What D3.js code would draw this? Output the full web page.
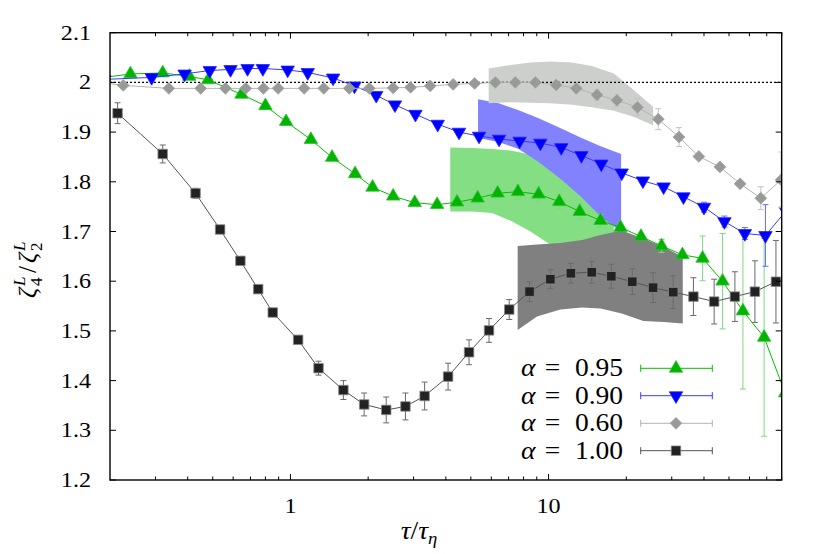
<!DOCTYPE html>
<html>
<head>
<meta charset="utf-8">
<script src="https://cdn.jsdelivr.net/npm/d3@7"></script>
<style>
  body { margin: 0; background: #fff; }
  svg text { font-family: "Liberation Serif", serif; }
</style>
</head>
<body>
<svg id="chart"></svg>
<script>
// alpha = 0.95 (green, up triangles)
const tau95  = [0.19, 0.240, 0.32, 0.406, 0.48, 0.646, 0.80, 0.962, 1.20, 1.45, 1.78, 2.08, 2.50, 3.03, 3.70, 4.42, 5.31, 6.35, 7.61, 9.15, 11.0, 13.2, 15.9, 19.0, 22.8, 27.4, 33.0, 39.5, 47.2, 56.6, 68.4, 82.5];
const zeta95 = [2.010, 2.017, 2.019, 2.012, 2.005, 1.976, 1.953, 1.921, 1.885, 1.849, 1.816, 1.789, 1.771, 1.758, 1.754, 1.759, 1.767, 1.777, 1.780, 1.775, 1.760, 1.740, 1.722, 1.708, 1.690, 1.671, 1.653, 1.646, 1.600, 1.540, 1.487, 1.375];
const err95  = [0, 0, 0, 0, 0, 0, 0, 0, 0, 0, 0, 0, 0, 0.003, 0.003, 0.006, 0.011, 0.012, 0.014, 0.015, 0.014, 0.015, 0.012, 0.003, 0.003, 0.013, 0.003, 0.045, 0.096, 0.157, 0.199, 0];

// alpha = 0.90 (blue, down triangles)
const tau90  = [0.19, 0.29, 0.389, 0.487, 0.586, 0.682, 0.782, 0.976, 1.167, 1.463, 1.77, 2.15, 2.54, 3.05, 3.72, 4.50, 5.38, 6.43, 7.72, 9.29, 11.2, 13.4, 16.0, 19.2, 23.2, 27.9, 33.3, 40.0, 48.0, 57.6, 69.2, 83.0];
const zeta90 = [2.006, 2.010, 2.017, 2.024, 2.026, 2.028, 2.028, 2.025, 2.020, 2.009, 1.993, 1.974, 1.955, 1.936, 1.916, 1.900, 1.892, 1.886, 1.882, 1.878, 1.869, 1.853, 1.836, 1.818, 1.802, 1.790, 1.770, 1.749, 1.720, 1.696, 1.692, 1.741];
const err90  = [0, 0, 0, 0, 0, 0, 0, 0, 0, 0, 0, 0, 0, 0, 0, 0, 0, 0, 0, 0, 0, 0, 0, 0, 0, 0, 0.004, 0.010, 0.011, 0.012, 0.062, 0];

// alpha = 0.60 (grey, diamonds)
const tau60  = [0.19, 0.225, 0.338, 0.449, 0.56, 0.671, 0.786, 0.896, 1.13, 1.346, 1.69, 2.02, 2.50, 2.92, 3.48, 4.27, 5.17, 6.22, 7.43, 8.89, 10.7, 12.8, 15.4, 18.4, 22.1, 26.6, 32.0, 38.2, 46.1, 55.2, 66.4, 79.6];
const zeta60 = [1.999, 1.994, 1.988, 1.988, 1.988, 1.988, 1.988, 1.988, 1.988, 1.988, 1.988, 1.988, 1.989, 1.990, 1.993, 1.996, 1.998, 2.000, 2.000, 2.000, 1.995, 1.988, 1.975, 1.964, 1.950, 1.926, 1.890, 1.851, 1.830, 1.796, 1.767, 1.804];
const err60  = [0, 0, 0, 0, 0, 0, 0, 0, 0, 0, 0, 0, 0, 0, 0, 0, 0, 0, 0, 0, 0, 0.004, 0.011, 0.012, 0.017, 0.021, 0.019, 0.004, 0.004, 0.004, 0.023, 0.056];

// alpha = 1.00 (black, squares)
const tau100  = [0.214, 0.32, 0.429, 0.534, 0.64, 0.75, 0.854, 1.071, 1.285, 1.604, 1.93, 2.35, 2.79, 3.31, 4.08, 4.92, 5.88, 7.04, 8.44, 10.16, 12.2, 14.7, 17.5, 21.1, 25.4, 30.4, 36.4, 43.8, 52.7, 63.0, 76.0];
const zeta100 = [1.938, 1.856, 1.777, 1.704, 1.641, 1.584, 1.537, 1.482, 1.425, 1.381, 1.352, 1.341, 1.348, 1.369, 1.408, 1.457, 1.501, 1.543, 1.579, 1.604, 1.616, 1.618, 1.610, 1.599, 1.587, 1.578, 1.569, 1.559, 1.569, 1.579, 1.599];
const err100  = [0.021, 0.018, 0.010, 0.005, 0.004, 0.004, 0.004, 0.004, 0.014, 0.019, 0.023, 0.026, 0.027, 0.028, 0.027, 0.025, 0.024, 0.020, 0.020, 0.019, 0.020, 0.022, 0.024, 0.026, 0.030, 0.033, 0.038, 0.045, 0.050, 0.062, 0.083];

// shaded bands
const bandTau95 = [4.16, 5.05, 6.04, 7.11, 8.50, 10.3, 12.4, 14.9, 17.9];
const bandLo95  = [1.740, 1.740, 1.737, 1.722, 1.700, 1.672, 1.660, 1.660, 1.680];
const bandHi95  = [1.869, 1.868, 1.866, 1.863, 1.855, 1.840, 1.820, 1.800, 1.780];

const bandTau90 = [5.33, 6.41, 7.66, 9.15, 11.1, 13.3, 16.0, 19.1];
const bandLo90  = [1.888, 1.880, 1.866, 1.840, 1.806, 1.771, 1.729, 1.700];
const bandHi90  = [1.966, 1.958, 1.944, 1.928, 1.908, 1.889, 1.871, 1.856];

const bandTau60 = [5.86, 7.11, 8.50, 10.16, 12.3, 14.7, 17.9, 21.3, 25.4];
const bandLo60  = [1.958, 1.960, 1.959, 1.958, 1.955, 1.950, 1.943, 1.931, 1.914];
const bandHi60  = [2.028, 2.035, 2.040, 2.042, 2.040, 2.033, 2.018, 1.985, 1.951];

const bandTau100 = [7.59, 9.02, 11.1, 13.5, 15.9, 19.2, 23.3, 27.9, 33.1];
const bandLo100  = [1.502, 1.529, 1.543, 1.547, 1.545, 1.535, 1.520, 1.518, 1.515];
const bandHi100  = [1.671, 1.674, 1.677, 1.683, 1.693, 1.702, 1.686, 1.669, 1.649];

const yTicks = [1.2, 1.3, 1.4, 1.5, 1.6, 1.7, 1.8, 1.9, 2.0, 2.1];
const yTickLabels = ['1.2', '1.3', '1.4', '1.5', '1.6', '1.7', '1.8', '1.9', '2', '2.1'];
const xMajor = [1, 10];
const xMinor = [0.3, 0.4, 0.5, 0.6, 0.7, 0.8, 0.9, 2, 3, 4, 5, 6, 7, 8, 9, 20, 30, 40, 50, 60, 70, 80];
const legendLabels = ['0.95', '0.90', '0.60', '1.00'];

const width = 831, height = 554;
const plotLeft = 110, plotRight = 781.7, plotTop = 32.7, plotBottom = 480;

const svg = d3.select('#chart').attr('width', width).attr('height', height);

const x = d3.scaleLog().domain([0.2, 80]).range([plotLeft, plotRight]);
const y = d3.scaleLinear().domain([1.2, 2.1]).range([plotBottom, plotTop]);

svg.append('defs').append('clipPath').attr('id', 'plotclip')
  .append('rect').attr('x', plotLeft).attr('y', plotTop)
  .attr('width', plotRight - plotLeft).attr('height', plotBottom - plotTop);

const plot = svg.append('g').attr('clip-path', 'url(#plotclip)');

// bands
function drawBand(ts, lo, hi, fill) {
  const rows = ts.map((t, i) => ({t: t, lo: lo[i], hi: hi[i]}));
  const area = d3.area().x(d => x(d.t)).y0(d => y(d.lo)).y1(d => y(d.hi));
  plot.append('path').datum(rows).attr('d', area).attr('fill', fill);
}
drawBand(bandTau95, bandLo95, bandHi95, '#84de84');
drawBand(bandTau90, bandLo90, bandHi90, '#8282ff');
drawBand(bandTau60, bandLo60, bandHi60, '#cdcfcd');
drawBand(bandTau100, bandLo100, bandHi100, '#808080');

// reference line at 2
plot.append('line')
  .attr('x1', plotLeft).attr('x2', plotRight)
  .attr('y1', y(2)).attr('y2', y(2))
  .attr('stroke', '#000').attr('stroke-width', 1.2)
  .attr('stroke-dasharray', '2,2');

const series = [
  {tau: tau95, zeta: zeta95, err: err95, line: '#00c000', bar: '#7fd87f', fill: '#00b400', stroke: '#30c030', shape: 'up'},
  {tau: tau90, zeta: zeta90, err: err90, line: '#3a3aff', bar: '#6a6aff', fill: '#0000ff', stroke: '#2020ff', shape: 'down'},
  {tau: tau60, zeta: zeta60, err: err60, line: '#b4b4b4', bar: '#c2c2c2', fill: '#969b96', stroke: '#a4a8a4', shape: 'diamond'},
  {tau: tau100, zeta: zeta100, err: err100, line: '#555555', bar: '#6a6a6a', fill: '#222222', stroke: '#8a8a8a', shape: 'square'}
];

function markerPath(shape) {
  if (shape === 'up' || shape === 'down') return d3.symbol(d3.symbolTriangle, 78)();
  if (shape === 'diamond') return d3.symbol(d3.symbolSquare, 70)();
  return d3.symbol(d3.symbolSquare, 90)();
}
function markerRotation(shape) {
  if (shape === 'down') return 180;
  if (shape === 'diamond') return 45;
  return 0;
}

series.forEach(s => {
  const pts = s.tau.map((t, i) => ({t: t, v: s.zeta[i], e: s.err[i]}));
  const g = plot.append('g');

  g.append('path').datum(pts)
    .attr('d', d3.line().x(d => x(d.t)).y(d => y(d.v)))
    .attr('fill', 'none').attr('stroke', s.line).attr('stroke-width', 1);

  const bars = g.selectAll('.bar').data(pts.filter(d => d.e > 0)).enter().append('g');
  bars.append('line')
    .attr('x1', d => x(d.t)).attr('x2', d => x(d.t))
    .attr('y1', d => y(d.v - d.e)).attr('y2', d => y(d.v + d.e))
    .attr('stroke', s.bar).attr('stroke-width', 1);
  [-1, 1].forEach(sign => {
    bars.append('line')
      .attr('x1', d => x(d.t) - 3).attr('x2', d => x(d.t) + 3)
      .attr('y1', d => y(d.v + sign * d.e)).attr('y2', d => y(d.v + sign * d.e))
      .attr('stroke', s.bar).attr('stroke-width', 1);
  });

  g.selectAll('.mark').data(pts).enter().append('path')
    .attr('d', markerPath(s.shape))
    .attr('transform', d => `translate(${x(d.t)},${y(d.v)}) rotate(${markerRotation(s.shape)})`)
    .attr('fill', s.fill).attr('stroke', s.stroke).attr('stroke-width', 0.8);
});

// axes: inward ticks on all four sides
function tickLines(vals, len, side) {
  vals.forEach(v => {
    if (side === 'x') {
      svg.append('line').attr('x1', x(v)).attr('x2', x(v)).attr('y1', plotBottom).attr('y2', plotBottom - len)
        .attr('stroke', '#000').attr('stroke-width', 1);
      svg.append('line').attr('x1', x(v)).attr('x2', x(v)).attr('y1', plotTop).attr('y2', plotTop + len)
        .attr('stroke', '#000').attr('stroke-width', 1);
    } else {
      svg.append('line').attr('x1', plotLeft).attr('x2', plotLeft + len).attr('y1', y(v)).attr('y2', y(v))
        .attr('stroke', '#000').attr('stroke-width', 1);
      svg.append('line').attr('x1', plotRight).attr('x2', plotRight - len).attr('y1', y(v)).attr('y2', y(v))
        .attr('stroke', '#000').attr('stroke-width', 1);
    }
  });
}
tickLines(xMajor, 6, 'x');
tickLines(xMinor, 3.5, 'x');
tickLines(yTicks, 6, 'y');

svg.append('rect')
  .attr('x', plotLeft).attr('y', plotTop).attr('width', plotRight - plotLeft).attr('height', plotBottom - plotTop)
  .attr('fill', 'none').attr('stroke', '#000').attr('stroke-width', 1.4);

// text drawn slightly wider than the font, like the original TeX labels
function stretchedText(px, py, str, anchor, size, sx) {
  return svg.append('g').attr('transform', `translate(${px},${py})`)
    .append('text').attr('transform', `scale(${sx},1)`)
    .attr('text-anchor', anchor).attr('font-size', size).text(str);
}

yTicks.forEach((v, i) => stretchedText(91, y(v) + 7, yTickLabels[i], 'end', 21, 1.15));
xMajor.forEach(v => stretchedText(x(v), 513, String(v), 'middle', 21, 1.15));

// x axis title: tau / tau_eta
const xt = svg.append('g').attr('transform', 'translate(419,539)')
  .append('text').attr('text-anchor', 'middle')
  .attr('font-size', 25).attr('transform', 'scale(1.1,1)');
xt.append('tspan').attr('font-style', 'italic').text('τ');
xt.append('tspan').text('/');
xt.append('tspan').attr('font-style', 'italic').text('τ');
xt.append('tspan').attr('font-style', 'italic').attr('font-size', 17).attr('dy', 5).text('η');

// y axis title: zeta_4^L / zeta_2^L
const yt = svg.append('g').attr('transform', 'translate(36,260) rotate(-90)')
  .append('text').attr('font-size', 25);
yt.append('tspan').attr('x', -38).attr('font-style', 'italic').text('ζ');
yt.append('tspan').attr('x', -26).attr('dy', 6).attr('font-size', 17).text('4');
yt.append('tspan').attr('x', -26).attr('dy', -17).attr('font-size', 17).attr('font-style', 'italic').text('L');
yt.append('tspan').attr('x', -13).attr('dy', 11).text('/');
yt.append('tspan').attr('x', -3).attr('font-style', 'italic').text('ζ');
yt.append('tspan').attr('x', 9).attr('dy', 6).attr('font-size', 17).text('2');
yt.append('tspan').attr('x', 9).attr('dy', -17).attr('font-size', 17).attr('font-style', 'italic').text('L');

// legend
const legendY = [368.3, 395.7, 423.3, 450.7];
series.forEach((s, i) => {
  const ly = legendY[i];
  const t = svg.append('g').attr('transform', `translate(521,${ly + 8})`)
    .append('text').attr('font-size', 25).attr('transform', 'scale(1.1,1)');
  t.append('tspan').attr('x', 0).attr('font-style', 'italic').text('α');
  t.append('tspan').attr('x', 21.5).text('=');
  t.append('tspan').attr('x', 49).text(legendLabels[i]);

  const lg = svg.append('g');
  lg.append('line').attr('x1', 640.7).attr('x2', 712.3).attr('y1', ly).attr('y2', ly)
    .attr('stroke', s.line).attr('stroke-width', 1);
  [640.7, 712.3].forEach(cx => lg.append('line')
    .attr('x1', cx).attr('x2', cx).attr('y1', ly - 3.5).attr('y2', ly + 3.5)
    .attr('stroke', s.line).attr('stroke-width', 1));
  lg.append('path').attr('d', markerPath(s.shape))
    .attr('transform', `translate(676,${ly}) rotate(${markerRotation(s.shape)})`)
    .attr('fill', s.fill).attr('stroke', s.stroke).attr('stroke-width', 0.8);
});
</script>
</body>
</html>
